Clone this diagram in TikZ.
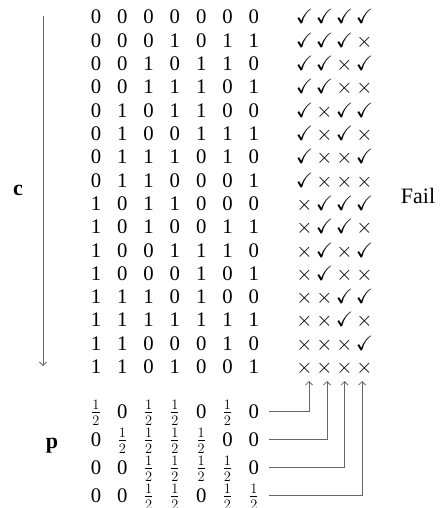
\documentclass[tikz,border=0pt]{standalone}
\usepackage{amssymb}
\usepackage{fontspec}
\setmainfont{Liberation Serif}
\usetikzlibrary{arrows.meta}
\tikzset{
  cell/.style={inner sep=0pt, text height=14pt, text depth=0pt, font=\fontsize{20.74}{24}\selectfont},
  conn/.style={draw=black!60, line width=0.8pt, -{Straight Barb[length=3.5pt,width=7pt]}},
  lab/.style={inner sep=0pt, font=\fontsize{22}{26}\selectfont\bfseries},
  txt/.style={inner sep=0pt, font=\fontsize{22}{26}\selectfont},
}
\begin{document}
\begin{tikzpicture}[x=1pt,y=-1pt]
\useasboundingbox (0,0) rectangle (443,508);
% c matrix
\foreach \row [count=\i] in {
 {0,0,0,0,0,0,0},{0,0,0,1,0,1,1},{0,0,1,0,1,1,0},{0,0,1,1,1,0,1},
 {0,1,0,1,1,0,0},{0,1,0,0,1,1,1},{0,1,1,1,0,1,0},{0,1,1,0,0,0,1},
 {1,0,1,1,0,0,0},{1,0,1,0,0,1,1},{1,0,0,1,1,1,0},{1,0,0,0,1,0,1},
 {1,1,1,0,1,0,0},{1,1,1,1,1,1,1},{1,1,0,0,0,1,0},{1,1,0,1,0,0,1}}{
  \foreach \v [count=\j] in \row {
    \node[cell] (c\i-\j) at ({96+26.3*(\j-1)},{17+23.3*(\i-1)}) {\v};
  }
}
% check marks
\foreach \row [count=\i] in {
 {1,1,1,1},{1,1,1,0},{1,1,0,1},{1,1,0,0},
 {1,0,1,1},{1,0,1,0},{1,0,0,1},{1,0,0,0},
 {0,1,1,1},{0,1,1,0},{0,1,0,1},{0,1,0,0},
 {0,0,1,1},{0,0,1,0},{0,0,0,1},{0,0,0,0}}{
  \foreach \v [count=\j] in \row {
    \node[cell] (k\i-\j) at ({304.5+20*(\j-1)},{17+23.3*(\i-1)}) {\ifnum\v=1 $\checkmark$\else$\times$\fi};
  }
}
% p matrix
\foreach \row [count=\i] in {
 {h,0,h,h,0,h,0},{0,h,h,h,h,0,0},{0,0,h,h,h,h,0},{0,0,h,h,0,h,h}}{
  \foreach \v [count=\j] in \row {
    \node[cell] (p\i-\j) at ({96+26.3*(\j-1)},{411+28*(\i-1)}) {\if\v h$\frac12$\else 0\fi};
  }
}
% labels
\node[lab] (clab) at (18,190) {c};
\node[lab] (plab) at (52,446) {p};
\node[txt] (fail) at (418,196) {Fail};
% left arrow
\coordinate (ctop) at (43,16);
\coordinate (cbot) at (43,366);
\draw[conn] (ctop) -- (cbot);
% connectors
\coordinate (a1) at (309,381);
\coordinate (a2) at (327,381);
\coordinate (a3) at (344.5,381);
\coordinate (a4) at (362,381);
\foreach \i in {1,2,3,4}{
  \draw[conn] ([xshift=10pt]p\i-7.east) -| (a\i);
}
\end{tikzpicture}
\end{document}
